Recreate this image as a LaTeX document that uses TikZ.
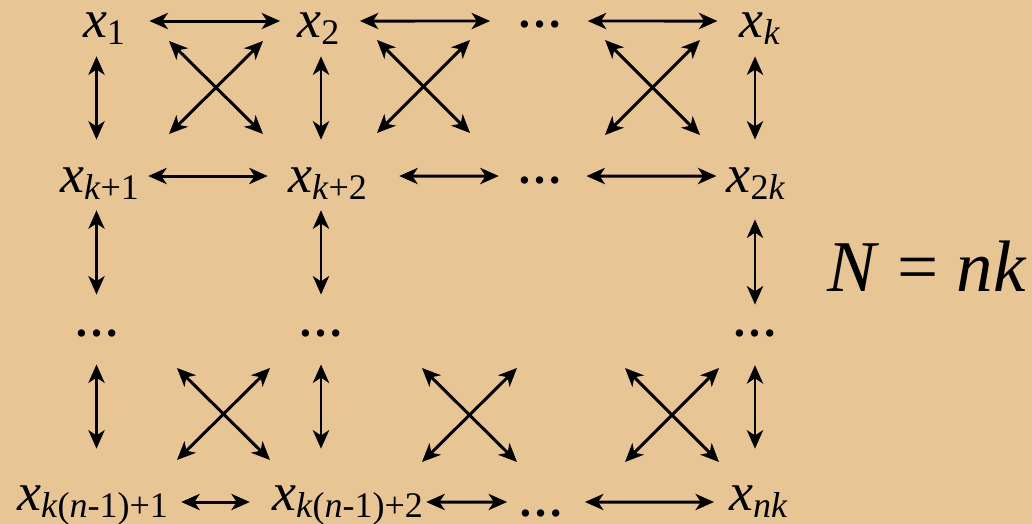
\documentclass[tikz,border=0pt]{standalone}
\usepackage{fontspec}
\setmainfont{LiberationSerif-Regular.ttf}[
  ItalicFont=LiberationSerif-Italic.ttf,
  BoldFont=LiberationSerif-Bold.ttf,
  BoldItalicFont=LiberationSerif-BoldItalic.ttf]
\usetikzlibrary{arrows.meta}
\definecolor{parchment}{RGB}{232,197,148}
\newcommand{\xsub}[1]{\textit{x}\raisebox{-4.4pt}{\fontsize{20.5}{22}\selectfont #1}}
\newcommand{\kk}{\textit{k}}
\newcommand{\nn}{\textit{n}}
\tikzset{
  >={Stealth[length=10.5pt,width=9.2pt,inset=3pt]},
  arr/.style={<->,line width=1.7pt},
  xnode/.style={
    anchor=base,
    inner sep=0pt,
    font=\rmfamily\fontsize{30.7}{34}\selectfont,
    text height=18.2pt,
    text depth=0pt
  },
  ellnode/.style={inner sep=0pt,font=\rmfamily\fontsize{25.6}{30}\selectfont\bfseries}
}

\begin{document}
\begin{tikzpicture}[x=0.02cm,y=-0.02cm]
  \fill[parchment] (0,0) rectangle (1032,524);
  \useasboundingbox (0,0) rectangle (1032,524);

  \node[xnode] (x1) at (104,37) {\xsub{1}};
  \node[xnode] (x2) at (318.5,37) {\xsub{2}};
  \node[ellnode,anchor=base,text height=7.4pt,text depth=0pt] (d1) at (540,27.5) {…};
  \node[xnode] (xk) at (760,37) {\xsub{\kk}};

  \node[xnode] (xk1) at (99.5,192) {\xsub{\kk+1}};
  \node[xnode] (xk2) at (327.5,192) {\xsub{\kk+2}};
  \node[ellnode,anchor=base,text height=8.5pt,text depth=0pt] (d2) at (539.5,183.5) {…};
  \node[xnode] (x2k) at (756,192) {\xsub{2\kk}};

  \node[ellnode] (v1) at (96.5,333) {…};
  \node[ellnode] (v2) at (321,333) {…};
  \node[ellnode] (v3) at (755,333) {…};

  \node[xnode,text height=9.1pt] (xa) at (92.5,510) {\xsub{\kk(\nn-1)+1}};
  \node[xnode,text height=9.1pt] (xb) at (347.5,510) {\xsub{\kk(\nn-1)+2}};
  \node[ellnode,anchor=base,text height=16.5pt,text depth=0pt] (d3) at (541,516.5) {…};
  \node[xnode,text height=9.1pt] (xnk) at (758.5,510) {\xsub{\nn\kk}};

  \node[anchor=base,inner sep=0pt,font=\rmfamily\fontsize{41.5}{48}\selectfont] (eq) at (927,291)
    {\textit{N} = \textit{nk}};

  % rows
  \draw[arr,shorten <=13.7pt,shorten >=9.7pt] (x1) -- (x2);
  \draw[arr,shorten <=11.4pt,shorten >=15.4pt] (x2) -- (d1);
  \draw[arr,shorten <=14.2pt,shorten >=12.5pt] (d1) -- (xk);
  \draw[arr,shorten <=5.1pt,shorten >=11.4pt] (xk1) -- (xk2);
  \draw[arr,shorten <=18.2pt,shorten >=10.2pt] (xk2) -- (d2);
  \draw[arr,shorten <=13.7pt,shorten >=5.7pt] (d2) -- (x2k);
  \draw[arr,shorten <=7.4pt,shorten >=12.5pt] (xa) -- (xb);
  \draw[arr,shorten <=1.7pt,shorten >=6.3pt] (xb) -- (d3);
  \draw[arr,shorten <=12pt,shorten >=8.5pt] (d3) -- (xnk);

  % columns
  \draw[arr,shorten <=10.8pt,shorten >=11.4pt] (v1 |- x1.south) -- (v1 |- xk1.north);
  \draw[arr,shorten <=10.8pt,shorten >=11.4pt] (v2 |- x2.south) -- (v2 |- xk2.north);
  \draw[arr,shorten <=10.8pt,shorten >=11.4pt] (v3 |- xk.south) -- (v3 |- x2k.north);
  \draw[arr,shorten <=10.2pt,shorten >=19.6pt] (v1 |- xk1.south) -- (v1);
  \draw[arr,shorten <=10.2pt,shorten >=19.6pt] (v2 |- xk2.south) -- (v2);
  \draw[arr,shorten <=15.4pt,shorten >=13.9pt] (v3 |- x2k.south) -- (v3);
  \draw[arr,shorten <=15.6pt,shorten >=25.6pt] (v1) -- (v1 |- xa.north);
  \draw[arr,shorten <=15.6pt,shorten >=25.6pt] (v2) -- (v2 |- xb.north);
  \draw[arr,shorten <=16pt,shorten >=25.6pt] (v3) -- (v3 |- xnk.north);

  % crossings
  \foreach \n/\l/\t/\r/\b in {1/169/41/263/134, 2/377/40/470/133, 3/605/40/700/135,
      4/177/368/270/460, 5/422/368/517/462, 6/625/368/719/462} {
    \coordinate (nw\n) at (\l,\t);
    \coordinate (ne\n) at (\r,\t);
    \coordinate (sw\n) at (\l,\b);
    \coordinate (se\n) at (\r,\b);
    \draw[arr] (nw\n) -- (se\n);
    \draw[arr] (ne\n) -- (sw\n);
  }
\end{tikzpicture}
\end{document}
